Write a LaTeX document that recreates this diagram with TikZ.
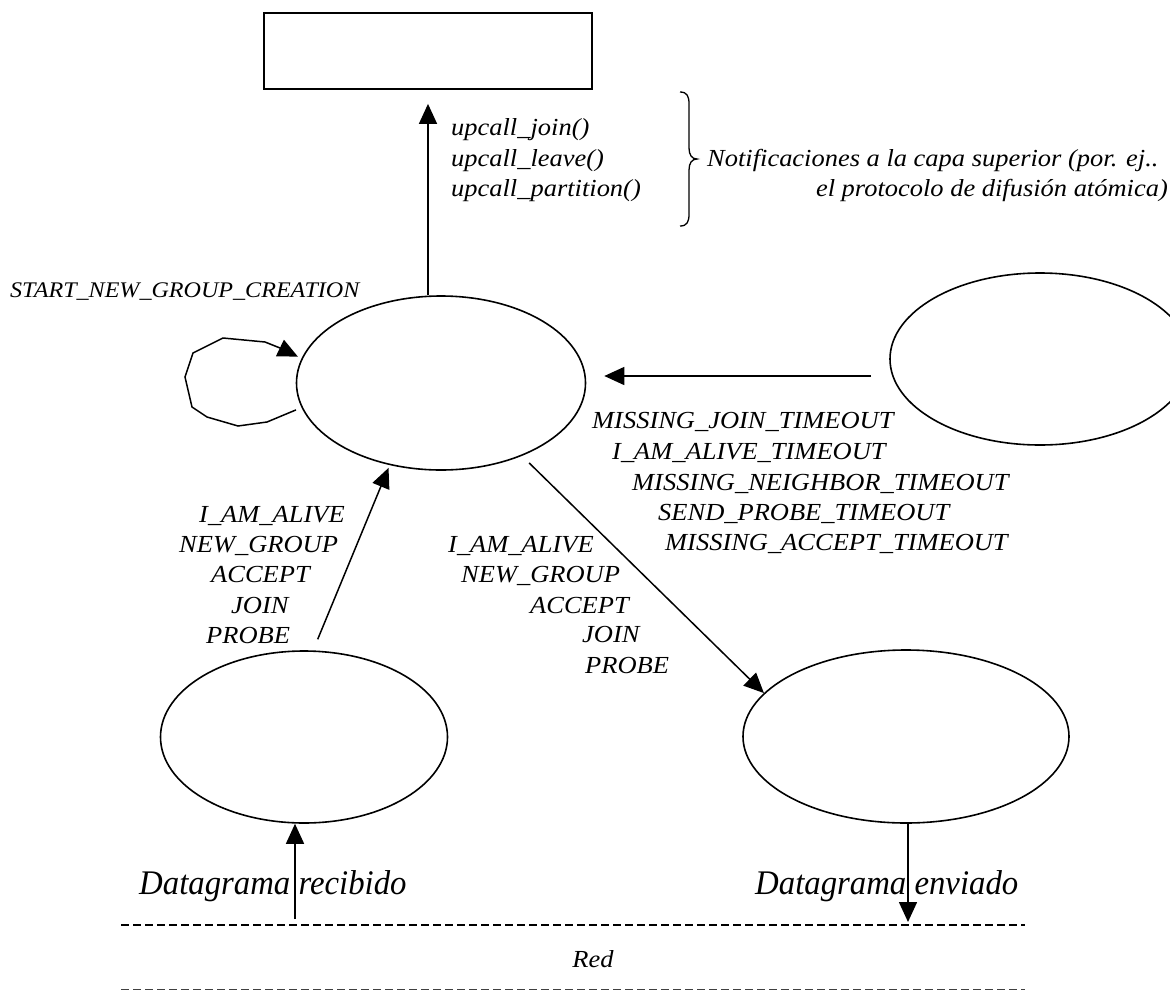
\documentclass[tikz,border=0pt]{standalone}
\usepackage{fontspec}
\setmainfont{Liberation Serif}
\newfontfamily\labfont[FakeStretch=1.08]{Liberation Serif}
\newfontfamily\bigfont[FakeStretch=0.95]{Liberation Serif}
\usetikzlibrary{shapes.geometric,arrows.meta,calc}
\tikzset{
  lab/.style={font=\labfont\itshape\fontsize{24.5}{30}\selectfont, inner sep=0pt, anchor=base west},
  labE/.style={lab, anchor=base east},
  bigLab/.style={lab, font=\bigfont\itshape\fontsize{34.5}{40}\selectfont},
  state/.style={draw, ellipse, line width=1.6pt, inner sep=0pt},
  upperbox/.style={draw, rectangle, line width=1.8pt, inner sep=0pt},
  arr/.style={line width=1.5pt, -{Triangle[length=20pt,width=18pt]}},
  dashline/.style={line width=1.3pt, dash pattern=on 8pt off 4pt},
  dashlineb/.style={line width=0.9pt, dash pattern=on 8pt off 4pt, black!75},
}
\begin{document}
\begin{tikzpicture}[x=1pt,y=-1pt]
\useasboundingbox (0,0) rectangle (1170,991);

% nodes
\node[upperbox, minimum width=328pt, minimum height=76pt] (top) at (428,51) {};
\node[state, minimum width=289pt, minimum height=174pt] (m) at (441,383) {};
\node[state, minimum width=300pt, minimum height=172pt] (r) at (1040,359) {};
\node[state, minimum width=287pt, minimum height=172pt] (bl) at (304,737) {};
\node[state, minimum width=326pt, minimum height=173pt] (br) at (906,736.5) {};

% upcall labels
\node[lab] (u1) at (451,135) {upcall\_join()};
\node[lab] (u2) at (451,166) {upcall\_leave()};
\node[lab] (u3) at (451,196) {upcall\_partition()};
\draw[line width=1.3pt] (680,92) .. controls (687,92) and (689,96) .. (689,104)
  -- (689,148) .. controls (689,155) and (692,159) .. (697,159)
  .. controls (692,159) and (689,163) .. (689,170)
  -- (689,214) .. controls (689,222) and (687,226) .. (680,226);
\node[lab] (n1) at (707,166) {Notificaciones a la capa superior (por. ej..};
\node[labE] (n2) at (1168,196) {el protocolo de difusión atómica)};

% self loop label
\node[lab, font=\labfont\itshape\fontsize{22.3}{27}\selectfont] (sng) at (10,297) {START\_NEW\_GROUP\_CREATION};

% timeout labels
\node[lab] (t1) at (592,428) {MISSING\_JOIN\_TIMEOUT};
\node[lab] (t2) at (612,459) {I\_AM\_ALIVE\_TIMEOUT};
\node[lab] (t3) at (632,490) {MISSING\_NEIGHBOR\_TIMEOUT};
\node[lab] (t4) at (658,520) {SEND\_PROBE\_TIMEOUT};
\node[lab] (t5) at (665,550) {MISSING\_ACCEPT\_TIMEOUT};

% received messages labels
\node[lab] (a1) at (199,522) {I\_AM\_ALIVE};
\node[lab] (a2) at (179,552) {NEW\_GROUP};
\node[lab] (a3) at (211,582) {ACCEPT};
\node[lab] (a4) at (231,613) {JOIN};
\node[lab] (a5) at (206,643) {PROBE};

% sent messages labels
\node[lab] (b1) at (448,552) {I\_AM\_ALIVE};
\node[lab] (b2) at (461,582) {NEW\_GROUP};
\node[lab] (b3) at (530,613) {ACCEPT};
\node[lab] (b4) at (582,642) {JOIN};
\node[lab] (b5) at (585,673) {PROBE};

% bottom labels
\node[bigLab] (dr) at (139,894) {Datagrama recibido};
\node[bigLab] (de) at (755,894) {Datagrama enviado};
\node[lab, anchor=base] (red) at (593,967) {Red};

% connectors
\draw[arr] (m.north -| top.south) -- ([yshift=-14pt]top.south);
\draw[arr, shorten <=18pt, shorten >=18pt] ([yshift=-17pt]r.west) -- ([yshift=-17pt]r.west -| m.east);
\draw[arr, shorten <=6pt, shorten >=4pt] (m.190) -- (267,422) -- (238,426) -- (207,417)
  -- (192,407) -- (185,377) -- (193,353) -- (223,338) -- (265,342) -- (280,348) -- (m.170);
\draw[arr, shorten <=12pt, shorten >=3pt] (bl.84.75) -- (m.238.1);
\draw[arr, shorten <=10pt] (m.318.1) -- (br.163);

\coordinate (recv) at (295,919);
\coordinate (sent) at (908,922);
\draw[arr] (recv) -- (recv |- bl.south);
\draw[arr] (br.south -| sent) -- (sent);

% network lines
\draw[dashline] (121,925) -- (1025,925);
\draw[dashlineb] (121,989) -- (1025,989);
\end{tikzpicture}
\end{document}
